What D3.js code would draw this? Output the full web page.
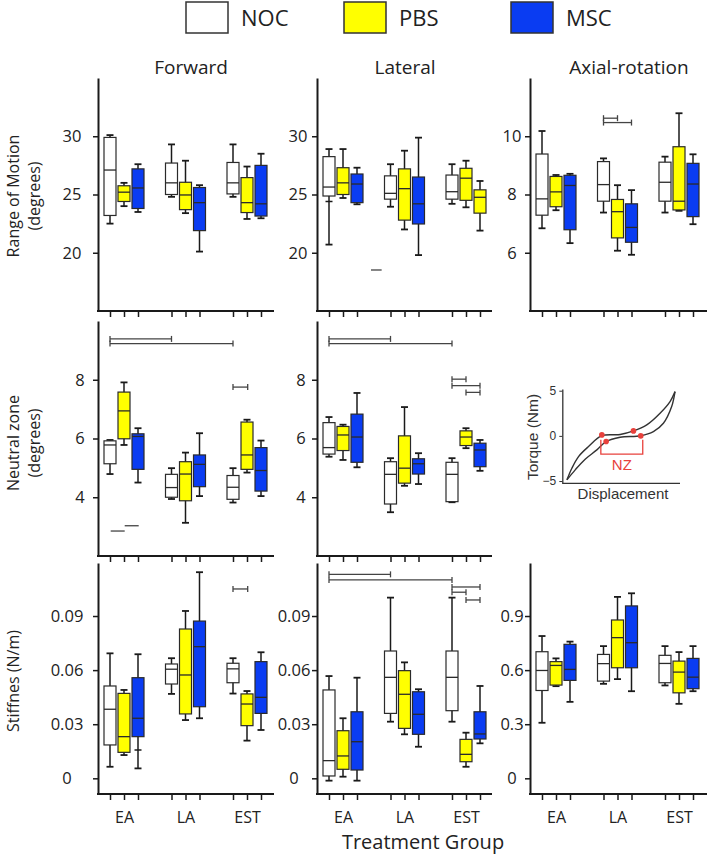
<!DOCTYPE html>
<html><head><meta charset="utf-8">
<script src="https://cdn.jsdelivr.net/npm/d3@7"></script>
<style>body{margin:0;background:#fff}svg{display:block}</style>
</head><body>
<svg id="c" width="709" height="858"></svg>
<script>
// ---------------- DATA ----------------
const groups = ["EA", "LA", "EST"];
const series = ["NOC", "PBS", "MSC"];
const seriesColors = ["#ffffff", "#ffff00", "#0a3cf2"];
const columnTitles = ["Forward", "Lateral", "Axial-rotation"];
const rowLabels = [["Range of Motion", "(degrees)"], ["Neutral zone", "(degrees)"], ["Stiffnes (N/m)"]];
const xAxisTitle = "Treatment Group";

const romTicks = [20, 25, 30];
const romAxialTicks = [6, 8, 10];
const nzTicks = [4, 6, 8];
const stiffTicks = [0, 0.03, 0.06, 0.09];
const stiffTickLabels = ["0", "0.03", "0.06", "0.09"];
const stiffAxialTicks = [0, 0.3, 0.6, 0.9];
const stiffAxialTickLabels = ["0", "0.3", "0.6", "0.9"];

// each box: [min, q1, median, q3, max]; order EA(NOC,PBS,MSC), LA(...), EST(...)
const forwardROM = [
  [22.5, 23.2, 27.1, 29.9, 30.1], [24.0, 24.4, 25.2, 25.75, 26.0], [23.5, 23.8, 25.56, 27.2, 27.6],
  [24.8, 25.0, 26.0, 27.7, 29.3], [23.4, 23.7, 24.96, 26.05, 27.9], [20.1, 21.9, 24.3, 25.6, 25.8],
  [24.8, 25.05, 26.0, 27.75, 29.3], [22.9, 23.45, 24.3, 26.45, 27.4], [22.96, 23.15, 24.2, 27.5, 28.5]
];
const lateralROM = [
  [20.7, 24.87, 25.64, 28.25, 28.9], [24.7, 25.0, 26.0, 27.3, 28.9], [24.16, 24.3, 25.9, 26.76, 27.3],
  [23.95, 24.6, 25.1, 26.6, 27.6], [22.0, 22.8, 25.5, 27.2, 28.76], [19.8, 22.47, 24.2, 26.5, 29.88],
  [24.2, 24.6, 25.24, 26.67, 27.6], [23.9, 24.5, 26.4, 27.25, 27.9], [21.9, 23.4, 24.76, 25.4, 26.16]
];
const axialROM = [
  [6.84, 7.29, 7.85, 9.39, 10.18], [7.46, 7.58, 8.09, 8.62, 8.67], [6.33, 6.79, 8.31, 8.66, 8.71],
  [7.38, 7.77, 8.34, 9.13, 9.24], [6.07, 6.51, 7.41, 7.83, 8.32], [5.93, 6.36, 6.87, 7.68, 8.15],
  [7.38, 7.77, 8.42, 9.11, 9.3], [7.44, 7.47, 7.77, 9.64, 10.79], [6.98, 7.24, 8.36, 9.07, 9.38]
];
const forwardNZ = [
  [4.79, 5.14, 5.78, 5.92, 5.95], [5.78, 5.99, 6.94, 7.58, 7.91], [4.5, 4.95, 6.07, 6.16, 6.35],
  [3.94, 4.0, 4.33, 4.78, 4.99], [3.13, 3.88, 4.79, 5.21, 5.52], [4.04, 4.36, 5.12, 5.44, 6.18],
  [3.82, 3.93, 4.34, 4.74, 4.99], [4.84, 4.95, 5.44, 6.56, 6.64], [4.04, 4.21, 4.91, 5.69, 5.93]
];
const lateralNZ = [
  [5.38, 5.47, 5.69, 6.54, 6.73], [5.27, 5.59, 6.12, 6.41, 6.47], [5.02, 5.19, 6.05, 6.83, 7.55],
  [3.49, 3.77, 4.78, 5.21, 5.33], [4.39, 4.48, 4.99, 6.09, 7.07], [4.45, 4.79, 5.14, 5.31, 5.5],
  [3.83, 3.85, 4.78, 5.19, 5.33], [5.67, 5.76, 6.05, 6.26, 6.35], [4.9, 5.04, 5.61, 5.84, 5.95]
];
const forwardStiff = [
  [0.0064, 0.0185, 0.0383, 0.0512, 0.0693], [0.0129, 0.0144, 0.0231, 0.0471, 0.049], [0.0055, 0.0231, 0.0333, 0.0558, 0.0688],
  [0.0468, 0.0523, 0.0605, 0.0634, 0.0666], [0.0323, 0.0357, 0.0573, 0.0828, 0.0928], [0.0333, 0.0397, 0.073, 0.0872, 0.1143],
  [0.047, 0.053, 0.0607, 0.0638, 0.0666], [0.0209, 0.0292, 0.0412, 0.0468, 0.0484], [0.0268, 0.036, 0.0449, 0.0647, 0.0699]
];
const lateralStiff = [
  [-0.0013, 0.0013, 0.0098, 0.049, 0.0567], [0.0009, 0.005, 0.0124, 0.0264, 0.0333], [-0.0013, 0.0046, 0.0203, 0.0369, 0.0558],
  [0.0314, 0.036, 0.056, 0.0706, 0.1002], [0.0244, 0.0277, 0.0466, 0.0597, 0.0643], [0.0175, 0.0244, 0.0355, 0.048, 0.0494],
  [0.0314, 0.0375, 0.056, 0.0706, 0.1002], [0.0064, 0.0092, 0.0133, 0.0216, 0.0253], [0.0194, 0.0218, 0.0246, 0.0369, 0.0512]
];
const axialStiff = [
  [0.308, 0.487, 0.598, 0.702, 0.789], [0.511, 0.517, 0.626, 0.647, 0.665], [0.424, 0.543, 0.604, 0.743, 0.758],
  [0.524, 0.539, 0.636, 0.687, 0.733], [0.55, 0.613, 0.78, 0.878, 1.006], [0.483, 0.613, 0.752, 0.956, 1.026],
  [0.515, 0.53, 0.637, 0.682, 0.733], [0.413, 0.474, 0.589, 0.65, 0.7], [0.483, 0.497, 0.561, 0.665, 0.733]
];
// fill overrides (the reference draws Lateral ROM EST-MSC in yellow)
const fillOverrides = [{ panel: "lateralROM", index: 8, series: "PBS" }];
// extra crossbars on whiskers: [panel, index, value]
const extraCaps = [["lateralROM", 0, 24.4], ["forwardStiff", 2, 0.0157]];

// significance brackets: [panel, value, group1, seriesPos1, group2, seriesPos2, caps]
const brackets = [
  ["axialROM", 10.62, "LA", 0, "LA", 1, true],
  ["axialROM", 10.47, "LA", 0, "LA", 2, true],
  ["lateralROM", 18.52, "EA", 3, "EA", 3.76, false],
  ["forwardNZ", 9.39, "EA", 0, "LA", 0, true],
  ["forwardNZ", 9.23, "EA", 0, "EST", 0, true],
  ["forwardNZ", 7.75, "EST", 0, "EST", 1.05, true],
  ["forwardNZ", 2.85, "EA", 0.05, "EA", 1.05, false],
  ["forwardNZ", 3.03, "EA", 1.05, "EA", 2.05, false],
  ["lateralNZ", 9.39, "EA", 0, "LA", 0, true],
  ["lateralNZ", 9.23, "EA", 0, "EST", 0, true],
  ["lateralNZ", 8.02, "EST", 0, "EST", 1, true],
  ["lateralNZ", 7.80, "EST", 0, "EST", 2, true],
  ["lateralNZ", 7.57, "EST", 1, "EST", 2, true],
  ["forwardStiff", 0.105, "EST", 0, "EST", 1.05, true],
  ["lateralStiff", 0.1131, "EA", 0, "LA", 0, true],
  ["lateralStiff", 0.110, "EA", 0, "EST", 0, true],
  ["lateralStiff", 0.1061, "EST", 0, "EST", 2, true],
  ["lateralStiff", 0.1032, "EST", 0, "EST", 1, true],
  ["lateralStiff", 0.0989, "EST", 1, "EST", 2, true]
];

// inset schematic (displacement, torque)
const insetTicks = [-5, 0, 5];
const insetUpper = [[-1, -4.87], [-0.908, -3.58], [-0.785, -2.29], [-0.6, -1.18], [-0.354, 0.02], [-0.015, 0.15],
  [0.231, 0.55], [0.477, 1.22], [0.723, 2.51], [0.908, 3.8], [1, 4.9]];
const insetLower = [[-1, -4.87], [-0.846, -3.76], [-0.662, -2.58], [-0.446, -1.55], [-0.274, -0.63], [-0.015, -0.15],
  [0.366, 0.02], [0.6, 0.48], [0.785, 1.4], [0.938, 3.25], [1, 4.9]];
const insetDots = [[-0.354, 0.11], [-0.274, -0.63], [0.231, 0.55], [0.366, 0.0]];
const insetNZ = { x1: -0.372, x2: 0.403, top: -0.44, bottom: -2.03, label: "NZ" };

// ---------------- LAYOUT ----------------
const svg = d3.select("#c");
const FONT = "'Open Sans', sans-serif";
const colAxisX = [98, 317, 530], colEndX = [274, 492, 707];
const rowY = [[78, 311], [321, 556], [563, 794]];
const ink = "#1a1a1a";

const panels = [
  { key: "forwardROM", data: forwardROM, row: 0, col: 0, dom: [15, 35], ticks: romTicks, labels: romTicks.map(String), off: 26 },
  { key: "lateralROM", data: lateralROM, row: 0, col: 1, dom: [15, 35], ticks: romTicks, labels: romTicks.map(String), off: 19 },
  { key: "axialROM", data: axialROM, row: 0, col: 2, dom: [4, 12], ticks: romAxialTicks, labels: romAxialTicks.map(String), off: 18 },
  { key: "forwardNZ", data: forwardNZ, row: 1, col: 0, dom: [2, 10], ticks: nzTicks, labels: nzTicks.map(String), off: 18 },
  { key: "lateralNZ", data: lateralNZ, row: 1, col: 1, dom: [2, 10], ticks: nzTicks, labels: nzTicks.map(String), off: 16 },
  { key: "forwardStiff", data: forwardStiff, row: 2, col: 0, dom: [-0.0087, 0.1194], ticks: stiffTicks, labels: stiffTickLabels, off: 31 },
  { key: "lateralStiff", data: lateralStiff, row: 2, col: 1, dom: [-0.0087, 0.1194], ticks: stiffTicks, labels: stiffTickLabels, off: 23 },
  { key: "axialStiff", data: axialStiff, row: 2, col: 2, dom: [-0.087, 1.194], ticks: stiffAxialTicks, labels: stiffAxialTickLabels, off: 18 }
];

const boxW = 12, capW = 7, step = 14;

function xScales(col) {
  const xg = d3.scalePoint().domain(groups).range([colAxisX[col] + 26, colAxisX[col] + 149]);
  const xs = d3.scalePoint().domain(series).range([-step, step]);
  return { xg, xs, pos: (g, sIdx) => xg(g) + (sIdx - 1) * step };
}

panels.forEach(p => {
  const [top, bottom] = rowY[p.row];
  const y = d3.scaleLinear().domain(p.dom).range([bottom, top]);
  const X = xScales(p.col);
  const g = svg.append("g");

  // y axis
  const ya = d3.axisLeft(y).tickValues(p.ticks).tickSize(5).tickSizeOuter(0).tickFormat((d, i) => p.labels[i]);
  const yg = g.append("g").attr("transform", `translate(${colAxisX[p.col]},0)`).call(ya);
  yg.select(".domain").attr("stroke", ink).attr("stroke-width", 2);
  yg.selectAll(".tick line").attr("stroke", ink).attr("stroke-width", 1.5);
  yg.selectAll(".tick text").attr("x", -p.off).attr("text-anchor", "middle")
    .attr("font-family", FONT).attr("font-size", 16.5).attr("fill", "#222");

  // x axis line + ticks
  const keys = [], vals = [];
  groups.forEach(gr => series.forEach(s => { keys.push(gr + "|" + s); vals.push(X.xg(gr) + X.xs(s)); }));
  const xo = d3.scaleOrdinal().domain(keys).range(vals);
  const xa = d3.axisBottom(xo).tickSize(6).tickSizeOuter(0)
    .tickFormat(k => (p.row === 2 && k.endsWith("|PBS")) ? k.split("|")[0] : "");
  const xg = g.append("g").attr("transform", `translate(0,${bottom})`).call(xa);
  xg.select(".domain").remove();
  xg.selectAll(".tick line").attr("stroke", ink).attr("stroke-width", 1.5);
  xg.selectAll(".tick text").attr("y", 18).attr("font-family", FONT).attr("font-size", 16).attr("fill", "#222");
  g.append("line").attr("x1", colAxisX[p.col] - 1).attr("x2", colEndX[p.col]).attr("y1", bottom).attr("y2", bottom)
    .attr("stroke", ink).attr("stroke-width", 2);

  // boxes
  const boxes = g.selectAll("g.box").data(p.data).join("g").attr("class", "box");
  boxes.each(function (d, i) {
    const gr = groups[Math.floor(i / 3)], sIdx = i % 3;
    const cx = X.xg(gr) + X.xs(series[sIdx]);
    const ov = fillOverrides.find(o => o.panel === p.key && o.index === i);
    const fill = ov ? seriesColors[series.indexOf(ov.series)] : seriesColors[sIdx];
    const b = d3.select(this);
    b.append("line").attr("x1", cx).attr("x2", cx).attr("y1", y(d[0])).attr("y2", y(d[4]))
      .attr("stroke", ink).attr("stroke-width", 1.5);
    [d[0], d[4]].forEach(v => b.append("line").attr("x1", cx - capW / 2).attr("x2", cx + capW / 2)
      .attr("y1", y(v)).attr("y2", y(v)).attr("stroke", ink).attr("stroke-width", 1.8));
    b.append("rect").attr("x", cx - boxW / 2).attr("width", boxW).attr("y", y(d[3])).attr("height", y(d[1]) - y(d[3]))
      .attr("fill", fill).attr("stroke", "#2a2a2a").attr("stroke-width", 1.2);
    b.append("line").attr("x1", cx - boxW / 2).attr("x2", cx + boxW / 2).attr("y1", y(d[2])).attr("y2", y(d[2]))
      .attr("stroke", "#2a2a2a").attr("stroke-width", 1.3);
  });
  extraCaps.filter(c => c[0] === p.key).forEach(c => {
    const gr = groups[Math.floor(c[1] / 3)], cx = X.xg(gr) + X.xs(series[c[1] % 3]);
    g.append("line").attr("x1", cx - capW / 2).attr("x2", cx + capW / 2).attr("y1", y(c[2])).attr("y2", y(c[2]))
      .attr("stroke", ink).attr("stroke-width", 1.5);
  });

  // brackets
  brackets.filter(b => b[0] === p.key).forEach(b => {
    const yy = y(b[1]), x1 = X.pos(b[2], b[3]), x2 = X.pos(b[4], b[5]);
    g.append("line").attr("x1", x1).attr("x2", x2).attr("y1", yy).attr("y2", yy).attr("stroke", "#444").attr("stroke-width", 1.3);
    if (b[6]) [x1, x2].forEach(xx => g.append("line").attr("x1", xx).attr("x2", xx).attr("y1", yy - 3).attr("y2", yy + 3)
      .attr("stroke", "#444").attr("stroke-width", 1.3));
  });
});

// column titles
const titleX = [191, 405, 629];
columnTitles.forEach((t, i) => svg.append("text").attr("x", titleX[i]).attr("y", 74).attr("text-anchor", "middle")
  .attr("font-family", FONT).attr("font-size", 19).attr("fill", "#222").text(t));

// row labels
const rowLabelY = [196, 443, 681];
rowLabels.forEach((lines, r) => {
  lines.forEach((t, j) => svg.append("text").attr("transform", `translate(${19 + j * 21},${rowLabelY[r]}) rotate(-90)`)
    .attr("text-anchor", "middle").attr("font-family", FONT).attr("font-size", 16).attr("fill", "#222").text(t));
});

// x axis title
svg.append("text").attr("x", 423).attr("y", 849).attr("text-anchor", "middle").attr("font-family", FONT)
  .attr("font-size", 20).attr("fill", "#222").text(xAxisTitle);

// legend
const legX = [186, 344, 511];
series.forEach((s, i) => {
  svg.append("rect").attr("x", legX[i]).attr("y", 2).attr("width", 42).attr("height", 31)
    .attr("fill", seriesColors[i]).attr("stroke", "#333").attr("stroke-width", 1.5);
  svg.append("text").attr("x", legX[i] + 55).attr("y", 26).attr("font-family", FONT).attr("font-size", 22)
    .attr("fill", "#222").text(s);
});

// inset
const IF = "'Liberation Sans', Arial, sans-serif";
const ix = d3.scaleLinear().domain([-1.085, 1.092]).range([562.3, 680]);
const iy = d3.scaleLinear().domain([-5.25, 5.19]).range([483.3, 389]);
const ig = svg.append("g");
const iya = ig.append("g").attr("transform", `translate(${ix.range()[0]},0)`)
  .call(d3.axisLeft(iy).tickValues(insetTicks).tickSize(3).tickSizeOuter(0));
iya.select(".domain").attr("stroke", "#333").attr("stroke-width", 1.3);
iya.selectAll(".tick line").attr("stroke", "#333");
iya.selectAll(".tick text").attr("font-family", IF).attr("font-size", 12).attr("fill", "#333").attr("x", -6);
ig.append("line").attr("x1", ix.range()[0]).attr("x2", ix.range()[1]).attr("y1", iy.range()[0]).attr("y2", iy.range()[0])
  .attr("stroke", "#333").attr("stroke-width", 1.3);
const iline = d3.line().x(d => ix(d[0])).y(d => iy(d[1])).curve(d3.curveCatmullRom);
[insetUpper, insetLower].forEach(c => ig.append("path").attr("d", iline(c)).attr("fill", "none")
  .attr("stroke", "#333").attr("stroke-width", 1.4));
const red = "#e8413c";
ig.append("path").attr("d", `M${ix(insetNZ.x1)},${iy(insetNZ.top)}V${iy(insetNZ.bottom)}H${ix(insetNZ.x2)}V${iy(insetNZ.top)}`)
  .attr("fill", "none").attr("stroke", red).attr("stroke-width", 1.3);
ig.selectAll("circle").data(insetDots).join("circle").attr("cx", d => ix(d[0])).attr("cy", d => iy(d[1])).attr("r", 2.8).attr("fill", red);
ig.append("text").attr("x", ix((insetNZ.x1 + insetNZ.x2) / 2)).attr("y", iy(insetNZ.bottom) + 16).attr("text-anchor", "middle")
  .attr("font-family", IF).attr("font-size", 15).attr("fill", red).text(insetNZ.label);
ig.append("text").attr("transform", `translate(538,437) rotate(-90)`).attr("text-anchor", "middle")
  .attr("font-family", IF).attr("font-size", 15.5).attr("fill", "#333").text("Torque (Nm)");
ig.append("text").attr("x", 623).attr("y", 499).attr("text-anchor", "middle")
  .attr("font-family", IF).attr("font-size", 15).attr("fill", "#333").text("Displacement");
</script>
</body></html>
